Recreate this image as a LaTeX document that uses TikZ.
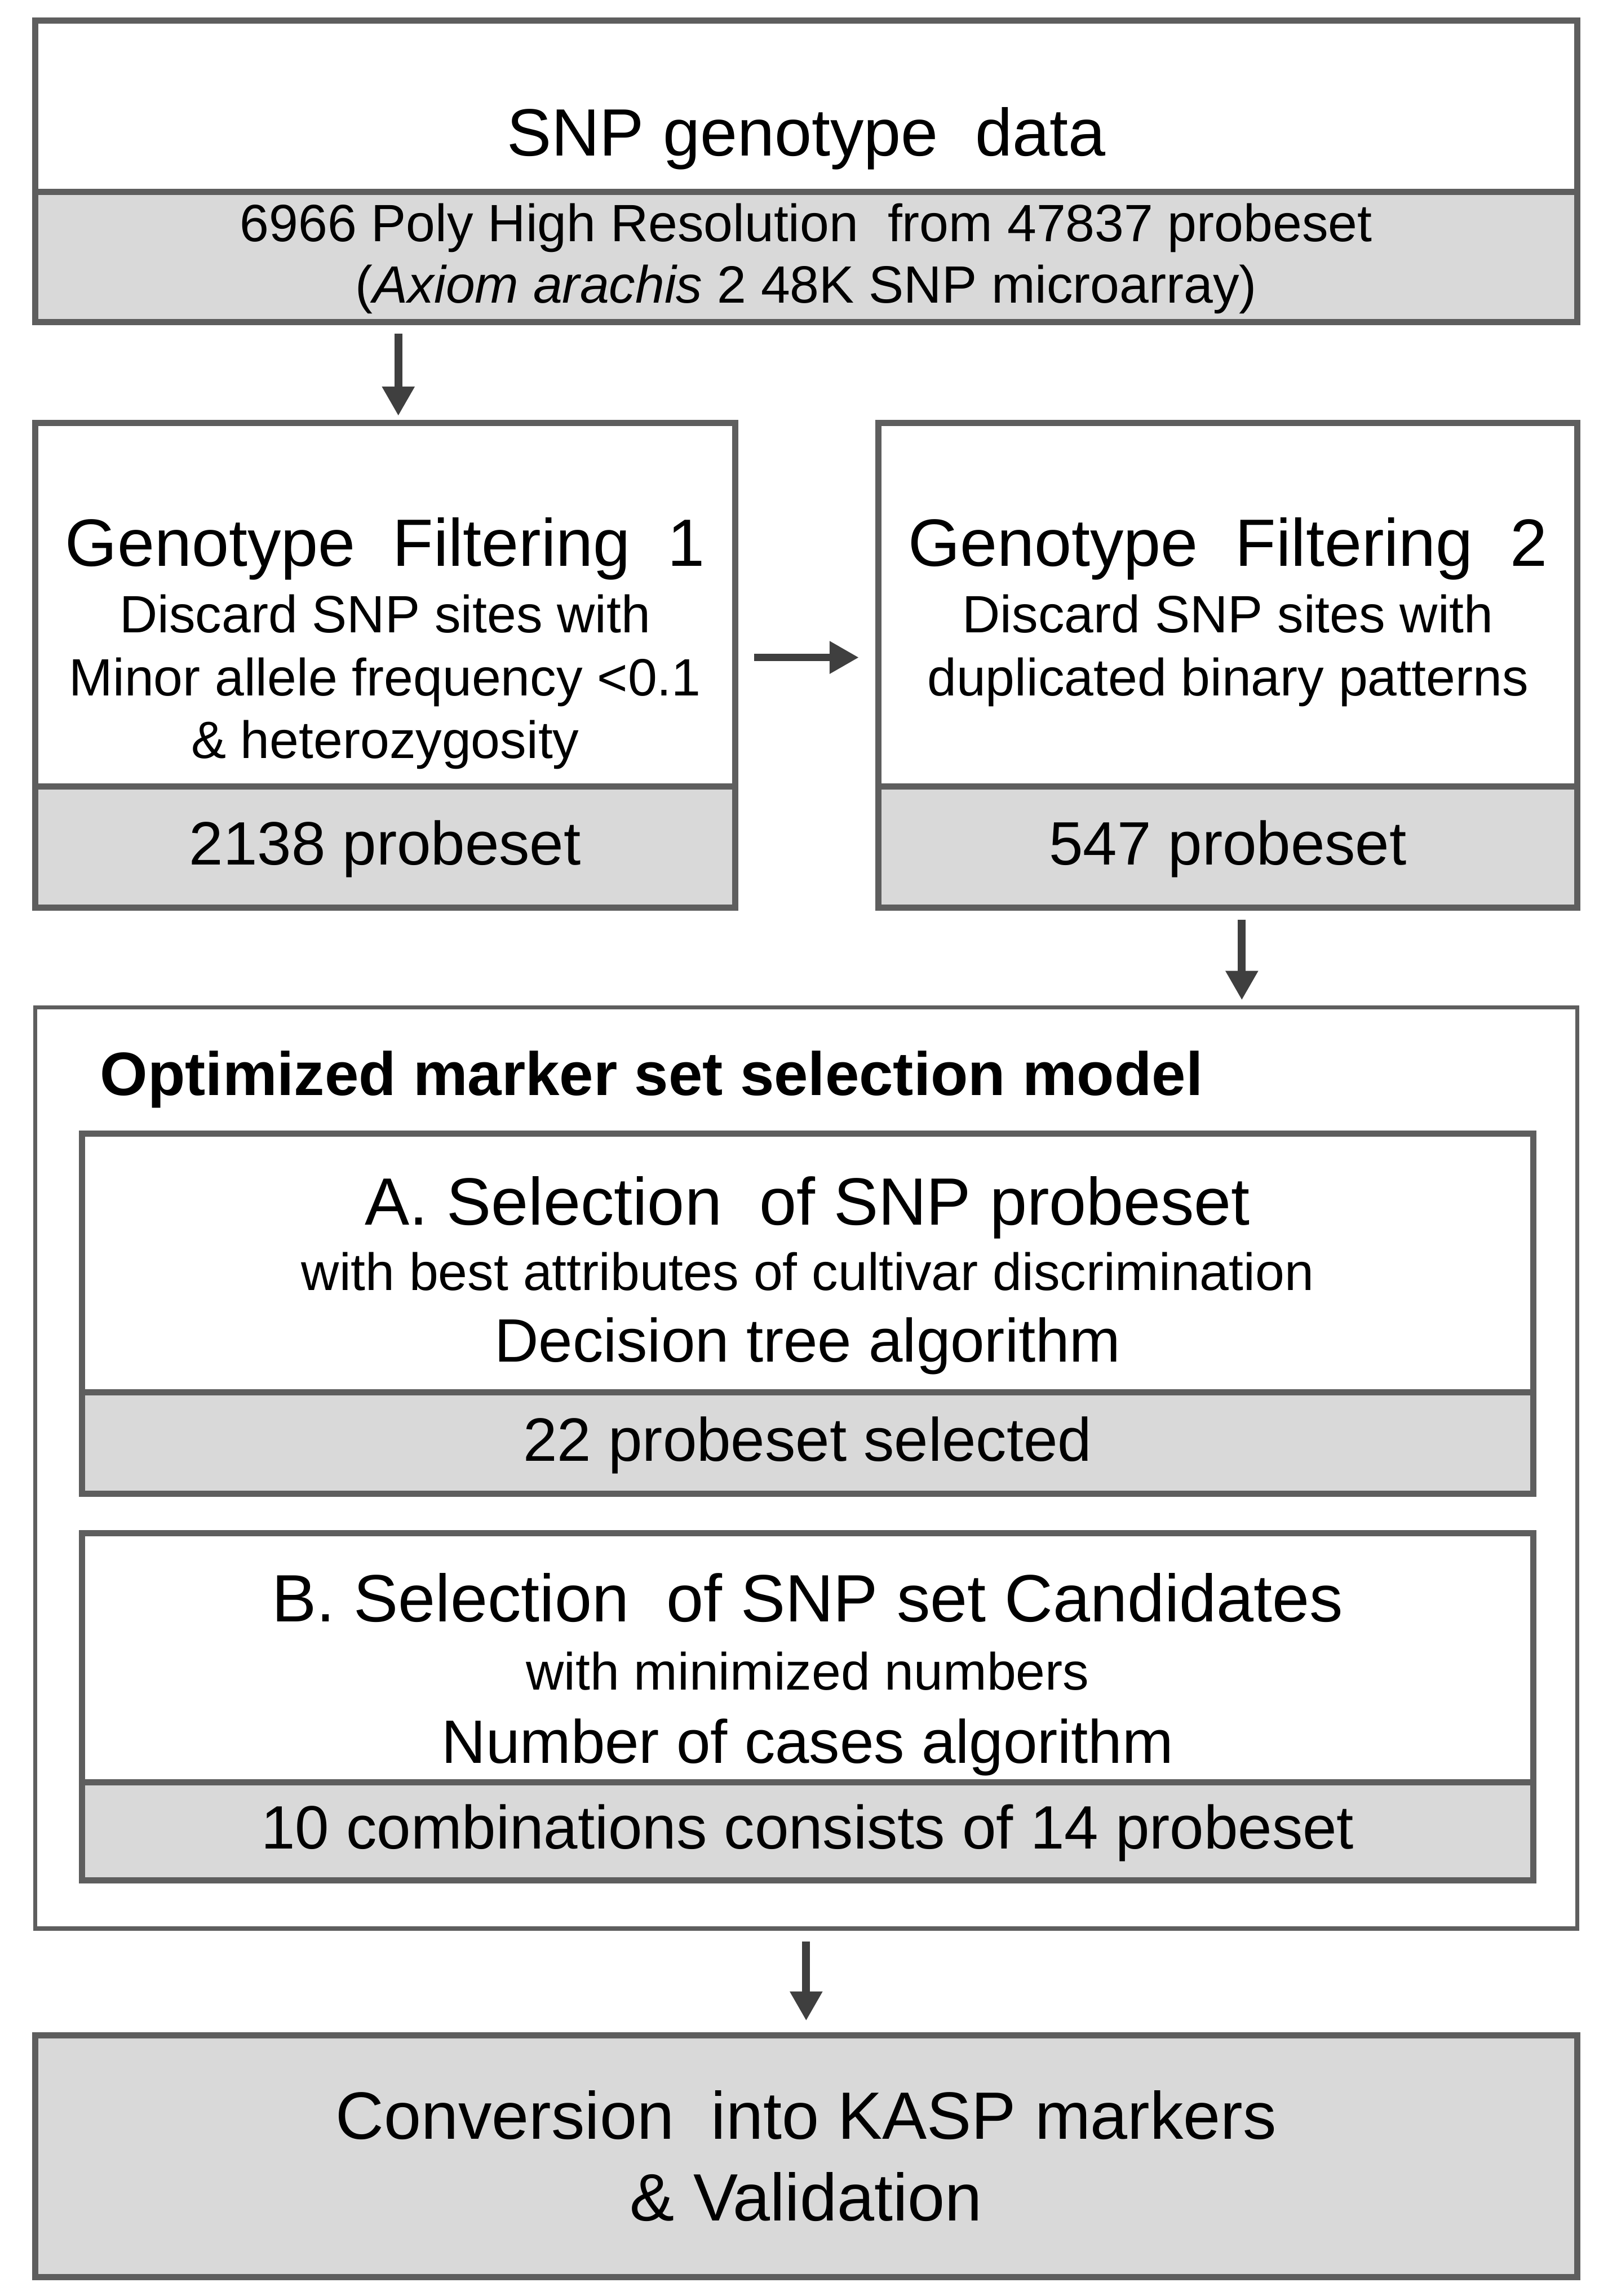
\documentclass[tikz,border=0pt]{standalone}
\usepackage{fontspec}
\setmainfont{Liberation Sans}
\usepackage{tikz}
\usetikzlibrary{arrows.meta, positioning}

\definecolor{framegray}{HTML}{5E5E5E}
\definecolor{cellgray}{HTML}{D9D9D9}
\definecolor{arrowgray}{HTML}{3F3F3F}

\tikzset{
  headcell/.style={draw=framegray, line width=1.2pt, fill=white, inner sep=0pt, outer sep=0pt, align=center},
  countcell/.style={headcell, fill=cellgray},
  countline/.style={text height=0.9em, text depth=0.21em},
  groupbox/.style={draw=framegray, line width=0.8pt, fill=white, inner sep=0pt, outer sep=0pt},
  bigtxt/.style={font=\fontsize{13}{15.9}\selectfont},
  midtxt/.style={font=\fontsize{11.9}{14}\selectfont},
  smalltxt/.style={font=\fontsize{10.2}{11.9}\selectfont},
  flow/.style={arrowgray, line width=1.5pt, -{Triangle[length=2mm,width=2.1mm]}},
}

\begin{document}
\begin{tikzpicture}
  \useasboundingbox (0,0) rectangle (10.98,-15.68);

  % SNP genotype data
  \node[headcell, minimum width=10.53cm, minimum height=1.17cm] (snpdata) at (5.505,-0.725) {};
  \node[countcell, smalltxt, minimum width=10.53cm, minimum height=0.89cm, below=0pt of snpdata] (snpinfo)
    {\rule{0pt}{1.5ex}6966 Poly High Resolution\ \ from 47837 probeset\\(\textit{Axiom arachis} 2 48K SNP microarray)};
  \node[bigtxt, anchor=base] (snptitle) at (5.505,-1.065) {SNP genotype\ \ data};

  % Genotype filtering 1
  \node[headcell, minimum width=4.78cm, minimum height=2.48cm] (filt1) at (2.63,-4.13) {};
  \node[countcell, countline, midtxt, minimum width=4.78cm, minimum height=0.83cm, below=0pt of filt1] (filt1n) {2138 probeset};
  \node[bigtxt, anchor=base] (filt1title) at (2.63,-3.865) {Genotype\ \ Filtering\ \ 1};
  \foreach \yy/\txt [count=\i] in {-4.32/Discard SNP sites with, -4.75/Minor allele frequency <0.1, -5.18/\& heterozygosity}
    \node[smalltxt, anchor=base] (filt1l\i) at (2.63,\yy) {\txt};

  % Genotype filtering 2
  \node[headcell, minimum width=4.77cm, minimum height=2.48cm] (filt2) at (8.385,-4.13) {};
  \node[countcell, countline, midtxt, minimum width=4.77cm, minimum height=0.83cm, below=0pt of filt2] (filt2n) {547 probeset};
  \node[bigtxt, anchor=base] (filt2title) at (8.385,-3.865) {Genotype\ \ Filtering\ \ 2};
  \foreach \yy/\txt [count=\i] in {-4.32/Discard SNP sites with, -4.75/duplicated binary patterns}
    \node[smalltxt, anchor=base] (filt2l\i) at (8.385,\yy) {\txt};

  % Selection model
  \node[groupbox, minimum width=10.53cm, minimum height=6.29cm] (model) at (5.505,-10.025) {};
  \node[font=\fontsize{11.9}{14}\selectfont\bfseries, anchor=base west] (modeltitle) at (0.56,-7.48)
    {Optimized marker set selection model};

  % A
  \node[headcell, minimum width=9.91cm, minimum height=1.77cm] (selA) at (5.515,-8.625) {};
  \node[countcell, countline, midtxt, minimum width=9.91cm, minimum height=0.69cm, below=0pt of selA] (selAn) {22 probeset selected};
  \node[bigtxt, anchor=base] (selAtitle) at (5.515,-8.365) {A. Selection\ \ of SNP probeset};
  \node[smalltxt, anchor=base] (selAsub) at (5.515,-8.81) {with best attributes of cultivar discrimination};
  \node[midtxt, anchor=base] (selAalg) at (5.515,-9.30) {Decision tree algorithm};

  % B
  \node[headcell, minimum width=9.91cm, minimum height=1.70cm] (selB) at (5.515,-11.32) {};
  \node[countcell, countline, midtxt, minimum width=9.91cm, minimum height=0.67cm, below=0pt of selB] (selBn)
    {10 combinations consists of 14 probeset};
  \node[bigtxt, anchor=base] (selBtitle) at (5.515,-11.075) {B. Selection\ \ of SNP set Candidates};
  \node[smalltxt, anchor=base] (selBsub) at (5.515,-11.54) {with minimized numbers};
  \node[midtxt, anchor=base] (selBalg) at (5.515,-12.04) {Number of cases algorithm};

  % KASP
  \node[countcell, bigtxt, minimum width=10.53cm, minimum height=1.65cm] (kasp) at (5.505,-14.725)
    {Conversion\ \ into KASP markers\\\& Validation};

  % arrows
  \draw[flow, shorten <=0.8mm, shorten >=0.5mm] ([xshift=0.9mm]filt1.north |- snpinfo.south) -- ([xshift=0.9mm]filt1.north);
  \draw[flow, shorten <=1.3mm, shorten >=1.35mm] ([yshift=-3.6mm]filt1.east) -- ([yshift=-3.6mm]filt2.west);
  \draw[flow, shorten <=0.8mm, shorten >=0.5mm] ([xshift=0.95mm]filt2n.south) -- ([xshift=0.95mm]filt2n.south |- model.north);
  \draw[flow, shorten <=0.9mm, shorten >=1.0mm] (model.south) -- (kasp.north);

\end{tikzpicture}
\end{document}
